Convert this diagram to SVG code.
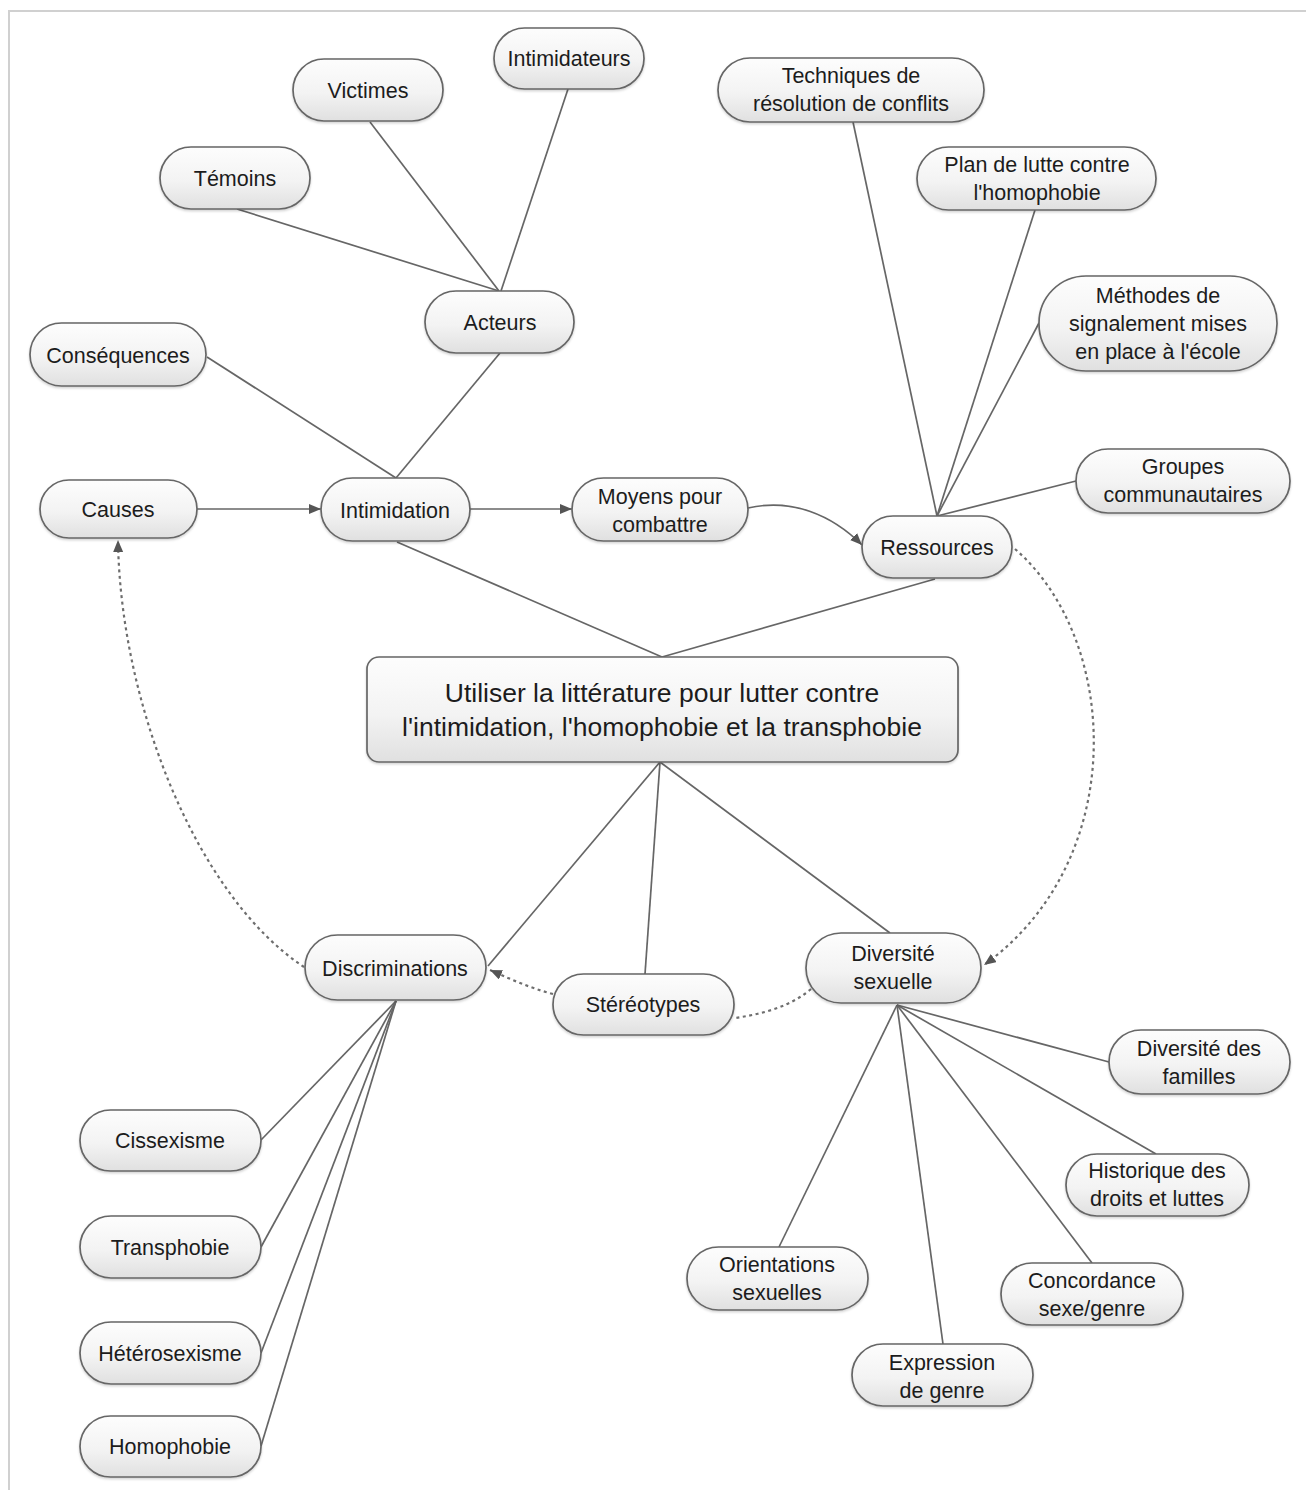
<svg xmlns="http://www.w3.org/2000/svg" width="1306" height="1490" viewBox="0 0 1306 1490">
<defs>
<linearGradient id="g" x1="0" y1="0" x2="0" y2="1">
<stop offset="0" stop-color="#fdfdfd"/>
<stop offset="0.55" stop-color="#f3f3f3"/>
<stop offset="1" stop-color="#e0e0e0"/>
</linearGradient>
<filter id="sh" x="-10%" y="-10%" width="120%" height="130%">
<feDropShadow dx="0" dy="1.5" stdDeviation="1.2" flood-color="#000" flood-opacity="0.18"/>
</filter>
<marker id="arr" markerUnits="userSpaceOnUse" markerWidth="14" markerHeight="12" refX="12" refY="5" orient="auto">
<path d="M0,0 L12,5 L0,10 z" fill="#555"/>
</marker>
</defs>
<style>
.n rect{fill:url(#g);stroke:#666;stroke-width:1.7;filter:url(#sh)}
.n text{font-family:"Liberation Sans",Arial,sans-serif;font-size:21.5px;fill:#1c1c1c;text-anchor:middle}
.c line,.c path{stroke:#666;stroke-width:1.7;fill:none}
.c .d{stroke:#6e6e6e;stroke-width:2.2;stroke-dasharray:3 3.5}
.t text{font-size:26.5px}
</style>
<rect width="1306" height="1490" fill="#fff"/>
<path d="M9,1490 V11 H1306" fill="none" stroke="#d0d0d0" stroke-width="2"/>

<g class="c" id="connectors">
<line x1="237" y1="209" x2="499" y2="291"/>
<line x1="370" y1="122" x2="499" y2="291"/>
<line x1="568" y1="89" x2="501" y2="291"/>
<line x1="500" y1="353" x2="396" y2="478"/>
<line x1="207" y1="357" x2="396" y2="478"/>
<line x1="197" y1="509" x2="321" y2="509" marker-end="url(#arr)"/>
<line x1="470" y1="509" x2="572" y2="509" marker-end="url(#arr)"/>
<path d="M748,508 C792,498 832,515 862,545" marker-end="url(#arr)"/>
<line x1="397" y1="542" x2="662" y2="657"/>
<line x1="935" y1="579" x2="662" y2="657"/>
<line x1="937" y1="516" x2="853" y2="122"/>
<line x1="937" y1="516" x2="1035" y2="210"/>
<line x1="937" y1="516" x2="1039" y2="323"/>
<line x1="937" y1="516" x2="1076" y2="481"/>
<line x1="660" y1="762" x2="488" y2="966"/>
<line x1="660" y1="762" x2="645" y2="974"/>
<line x1="660" y1="762" x2="890" y2="933"/>
<line x1="396" y1="1001" x2="261" y2="1140"/>
<line x1="396" y1="1001" x2="261" y2="1247"/>
<line x1="396" y1="1001" x2="261" y2="1353"/>
<line x1="396" y1="1001" x2="261" y2="1446"/>
<line x1="897" y1="1005" x2="1109" y2="1062"/>
<line x1="897" y1="1005" x2="1156" y2="1154"/>
<line x1="897" y1="1005" x2="1092" y2="1263"/>
<line x1="897" y1="1005" x2="943" y2="1344"/>
<line x1="897" y1="1005" x2="779" y2="1247"/>
<path class="d" d="M1015,549 C1120,640 1130,860 984,965" marker-end="url(#arr)"/>
<path class="d" d="M811,989 C790,1007 762,1014 735,1018"/>
<path class="d" d="M553,994 C530,988 510,979 490,970" marker-end="url(#arr)"/>
<path class="d" d="M304,967 C195,895 120,700 118,540" marker-end="url(#arr)"/>
</g>

<g class="n" id="n-intimidateurs"><rect x="494" y="28" width="150" height="61" rx="30.5"/><text x="569" y="66">Intimidateurs</text></g>
<g class="n" id="n-victimes"><rect x="293" y="59" width="150" height="62" rx="31"/><text x="368" y="98">Victimes</text></g>
<g class="n" id="n-temoins"><rect x="160" y="147" width="150" height="62" rx="31"/><text x="235" y="186">Témoins</text></g>
<g class="n" id="n-acteurs"><rect x="425" y="291" width="149" height="62" rx="31"/><text x="500" y="330">Acteurs</text></g>
<g class="n" id="n-consequences"><rect x="30" y="323" width="176" height="63" rx="31.5"/><text x="118" y="363">Conséquences</text></g>
<g class="n" id="n-causes"><rect x="40" y="480" width="157" height="58" rx="29"/><text x="118" y="517">Causes</text></g>
<g class="n" id="n-intimidation"><rect x="321" y="478" width="149" height="63" rx="31.5"/><text x="395" y="518">Intimidation</text></g>
<g class="n" id="n-moyens"><rect x="572" y="478" width="176" height="63" rx="31.5"/><text x="660" y="504">Moyens pour</text><text x="660" y="532">combattre</text></g>
<g class="n" id="n-ressources"><rect x="862" y="516" width="150" height="62" rx="31"/><text x="937" y="555">Ressources</text></g>
<g class="n" id="n-groupes"><rect x="1076" y="449" width="214" height="64" rx="32"/><text x="1183" y="474">Groupes</text><text x="1183" y="502">communautaires</text></g>
<g class="n" id="n-techniques"><rect x="718" y="58" width="266" height="64" rx="32"/><text x="851" y="83">Techniques de</text><text x="851" y="111">résolution de conflits</text></g>
<g class="n" id="n-plan"><rect x="917" y="147" width="239" height="63" rx="31.5"/><text x="1037" y="172">Plan de lutte contre</text><text x="1037" y="200">l'homophobie</text></g>
<g class="n" id="n-methodes"><rect x="1039" y="276" width="238" height="95" rx="47"/><text x="1158" y="303">Méthodes de</text><text x="1158" y="331">signalement mises</text><text x="1158" y="359">en place à l'école</text></g>
<g class="n t" id="n-central"><rect x="367" y="657" width="591" height="105" rx="12"/><text x="662" y="702">Utiliser la littérature pour lutter contre</text><text x="662" y="736">l'intimidation, l'homophobie et la transphobie</text></g>
<g class="n" id="n-discriminations"><rect x="305" y="935" width="181" height="65" rx="32.5"/><text x="395" y="976">Discriminations</text></g>
<g class="n" id="n-stereotypes"><rect x="553" y="974" width="181" height="61" rx="30.5"/><text x="643" y="1012">Stéréotypes</text></g>
<g class="n" id="n-diversite"><rect x="806" y="933" width="175" height="70" rx="35"/><text x="893" y="961">Diversité</text><text x="893" y="989">sexuelle</text></g>
<g class="n" id="n-cissexisme"><rect x="80" y="1110" width="181" height="61" rx="30.5"/><text x="170" y="1148">Cissexisme</text></g>
<g class="n" id="n-transphobie"><rect x="80" y="1216" width="181" height="62" rx="31"/><text x="170" y="1255">Transphobie</text></g>
<g class="n" id="n-heterosexisme"><rect x="80" y="1322" width="181" height="62" rx="31"/><text x="170" y="1361">Hétérosexisme</text></g>
<g class="n" id="n-homophobie"><rect x="80" y="1416" width="181" height="61" rx="30.5"/><text x="170" y="1454">Homophobie</text></g>
<g class="n" id="n-familles"><rect x="1109" y="1030" width="181" height="64" rx="32"/><text x="1199" y="1056">Diversité des</text><text x="1199" y="1084">familles</text></g>
<g class="n" id="n-historique"><rect x="1066" y="1154" width="183" height="62" rx="31"/><text x="1157" y="1178">Historique des</text><text x="1157" y="1206">droits et luttes</text></g>
<g class="n" id="n-concordance"><rect x="1001" y="1263" width="182" height="62" rx="31"/><text x="1092" y="1288">Concordance</text><text x="1092" y="1316">sexe/genre</text></g>
<g class="n" id="n-expression"><rect x="852" y="1344" width="181" height="62" rx="31"/><text x="942" y="1370">Expression</text><text x="942" y="1398">de genre</text></g>
<g class="n" id="n-orientations"><rect x="687" y="1247" width="181" height="63" rx="31.5"/><text x="777" y="1272">Orientations</text><text x="777" y="1300">sexuelles</text></g>
</svg>
